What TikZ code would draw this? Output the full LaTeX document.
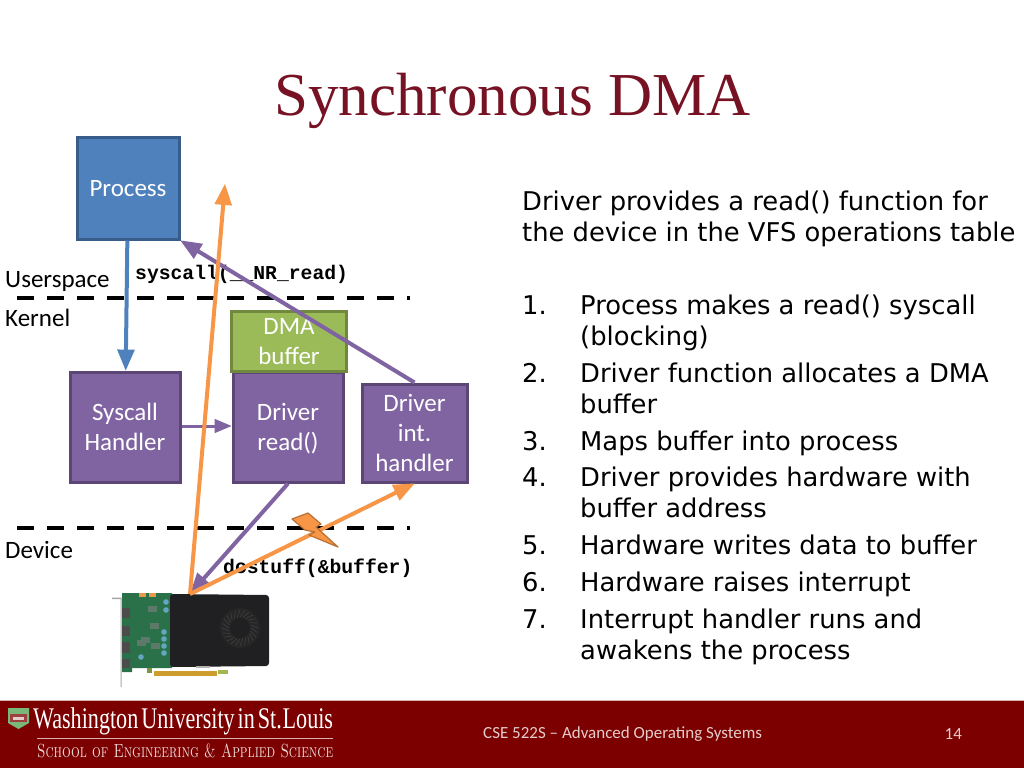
\documentclass[tikz,border=0pt]{standalone}
\usepackage{fontspec}
\setmainfont{DejaVu Sans}
\newfontfamily\slidefont[Ligatures=TeX]{Carlito}
\newfontfamily\titlefont{Liberation Serif}
\newfontfamily\codefont{Liberation Mono}
\usetikzlibrary{arrows}
\newcommand{\linehold}{\rule[-7pt]{0pt}{30pt}}
\definecolor{wured}{RGB}{125,0,0}
\definecolor{titlered}{RGB}{118,18,36}
\definecolor{procblue}{RGB}{79,129,189}
\definecolor{procedge}{RGB}{56,93,138}
\definecolor{drvpurple}{RGB}{128,100,162}
\definecolor{drvedge}{RGB}{92,70,118}
\definecolor{bufgreen}{RGB}{155,187,89}
\definecolor{bufedge}{RGB}{113,137,63}
\definecolor{sigorange}{RGB}{247,150,70}
\definecolor{pcbgreen}{RGB}{42,112,72}
\definecolor{shroud}{RGB}{32,32,34}
\tikzset{
    box/.style={draw=drvedge,fill=drvpurple,line width=3pt,text=white,align=center,
        inner sep=0pt,font=\slidefont\fontsize{25}{30}\selectfont},
    lbl/.style={inner sep=0pt,font=\slidefont\fontsize{25}{29}\selectfont},
    code/.style={inner sep=0pt,font=\codefont\bfseries\fontsize{19.7}{22}\selectfont},
    body/.style={inner sep=0pt,anchor=north west,align=left,font=\fontsize{25.8}{30.5}\selectfont},
    sep/.style={black,line width=4.5pt,dash pattern=on 17pt off 13pt},
    wire/.style={line width=4pt,-triangle 45},
}
\begin{document}
\begin{tikzpicture}[x=1pt,y=-1pt]
\useasboundingbox (0,0) rectangle (1024,768);
\fill[white] (0,0) rectangle (1024,768);
    % Title
    \node[inner sep=0pt,text=titlered,font=\titlefont\fontsize{61}{64}\selectfont] (title) at (512.5,101) {Synchronous DMA};
    % Layer labels
    \node[lbl,anchor=west] (userspace) at (5,281) {Userspace};
    \node[lbl,anchor=west] (kernel) at (5,318) {Kernel};
    \node[lbl,anchor=west] (device) at (5,550) {Device};
    \node[code,anchor=west] (syscall) at (135,274) {syscall(\_\_NR\_read)};
    \node[code,anchor=west] (dostuff) at (223,568) {dostuff(\&buffer)};
    % Layer separators
    \coordinate (s_1) at (17,298);
    \coordinate (s_2) at (410,298);
    \coordinate (s_3) at (17,528);
    \coordinate (s_4) at (410,528);
    \draw[sep] (s_1) -- (s_2);
    \draw[sep] (s_3) -- (s_4);
    % Boxes
    \node[box,draw=procedge,fill=procblue,minimum width=102pt,minimum height=102pt] (process) at (128,188) {\linehold Process};
    \node[box,minimum width=110pt,minimum height=110pt] (handler) at (125,427) {\linehold Syscall\\Handler\linehold};
    \node[box,minimum width=110pt,minimum height=110pt] (read) at (288,427) {\linehold Driver\\read()\linehold};
    \node[box,draw=bufedge,fill=bufgreen,minimum width=115pt,minimum height=59pt] (dma) at (289,341.5) {\linehold DMA\\buffer\linehold};
    \node[box,minimum width=105pt,minimum height=98pt] (inthandler) at (414.5,433) {\linehold Driver\\int.\\handler\linehold};
    % Graphics card
    \coordinate (card) at (190,594);
    \fill[gray!70] (112,597.5) -- (121.5,597.5) -- (121.5,687) -- (120.5,687) -- (120.5,599) -- (112,599) -- cycle;
    \fill[pcbgreen] (122,593) -- (172,593) -- (172,668) -- (132,668) -- (132,672) -- (122,672) -- cycle;
    \fill[bufgreen!80!black] (147,668) rectangle (152,673);
    \fill[bufgreen!90!orange] (218,670) rectangle (228,674);
    \fill[orange!50!bufgreen] (154,671) rectangle (217,676);
    \foreach \y/\h in {608/10,626/10,642/11,659/9} \fill[black!70] (122,\y) rectangle (130,\y+\h);
    \foreach \x/\y in {148/606,150/623,151/643,141/637,137/640} \fill[gray!60!pcbgreen] (\x,\y) rectangle (\x+9,\y+6);
    \foreach \x/\y in {166/602,166/610,164/632,164/639,164/646,164/653,141/657} \fill[cyan!50!gray] (\x,\y) circle (2.8pt);
    \foreach \x in {142,152} \fill[orange!50!brown!80!white] (\x-3.5,593) rectangle (\x+3.5,597);
    \fill[shroud,rounded corners=3pt] (170,594) -- (269,595) -- (269,666) -- (170,667) -- cycle;
    \fill[gray!60] (196,666) rectangle (210,668);
    \fill[black!85] (240,628) circle (20pt);
    \foreach \a in {0,15,...,345} \draw[gray!50!black,line width=.6pt] (240,628) ++(\a:11) -- ++(\a+35:8);
    \fill[shroud] (240,628) circle (10pt);
    % Connectors
    \coordinate (top) at (225,184);
    \draw[wire,procblue] (process) -- (handler);
    \draw[wire,line width=3pt,drvpurple] (handler.east |- 0,426) -- (read.west |- 0,426);
    \draw[wire,drvpurple] (inthandler.north) -- (process.south east);
    \draw[wire,drvpurple] (read.south) -- (card);
    \draw[wire,sigorange] (card) -- (top);
    \draw[wire,sigorange] (card) -- (inthandler.south);
    % Interrupt bolt
    \fill[sigorange,draw=sigorange!75!black,line width=1.2pt,line join=round] (292,519) -- (308,513) -- (321,524) -- (316,527) -- (338,547) -- (309,535) -- (315,532) -- (305,530) -- cycle;
    % Steps
    \node[body] (intro) at (522,189) {\strut Driver provides a read() function for\\the device in the VFS operations table};
    \foreach \n/\y/\txt in {1/293/{Process makes a read() syscall\\(blocking)},
        2/361/{Driver function allocates a DMA\\buffer},
        3/429/{Maps buffer into process},
        4/465/{Driver provides hardware with\\buffer address},
        5/533/{Hardware writes data to buffer},
        6/570/{Hardware raises interrupt},
        7/607/{Interrupt handler runs and\\awakens the process}}
    {
        \node[body] (num\n) at (522,\y) {\strut\n.};
        \node[body] (item\n) at (580,\y) {\strut\txt};
    }
    % Footer
    \fill[wured] (0,700) rectangle (1024,768);
    \draw[white!70!wured] (0,700) -- (1024,700);
    \fill[gray!70!green!80!white] (8,708) -- (29,708) -- (29,723) -- (18.5,729) -- (8,723) -- cycle;
    \fill[wured!75!white] (10,714) rectangle (27,722);
    \fill[white!80!wured] (13,716.5) rectangle (24,719.5);
    \node[anchor=west,inner sep=0pt,text=white,xscale=.738,font=\titlefont\fontsize{30}{30}\selectfont] (wustl) at (33,721) {Washington\hspace{4pt}University\hspace{4pt}in\hspace{4pt}St.\hspace{1pt}Louis};
    \coordinate (r_1) at (37,738);
    \coordinate (r_2) at (333,738);
    \draw[white!70!wured] (r_1) -- (r_2);
    \node[anchor=west,inner sep=0pt,text=white!85!wured,xscale=.727,font=\fontsize{19}{19}\selectfont] (school) at (37,751) {\fontspec{Latin Modern Roman Caps}School of Engineering \& Applied Science};
    \node[anchor=west,inner sep=0pt,text=white!80!wured,font=\slidefont\fontsize{17}{17}\selectfont] (course) at (483,734.5) {CSE 522S -- Advanced Operating Systems};
    \node[anchor=west,inner sep=0pt,text=white!80!wured,font=\slidefont\fontsize{17}{17}\selectfont] (page) at (944.5,734.5) {14};
\end{tikzpicture}
\end{document}
